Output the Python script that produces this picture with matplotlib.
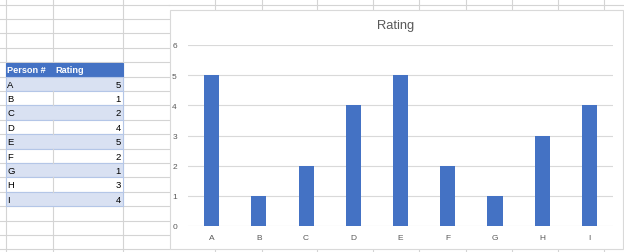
import matplotlib.pyplot as plt
from matplotlib.patches import Rectangle

# ---------------- Datos ----------------
persons = ["A", "B", "C", "D", "E", "F", "G", "H", "I"]
ratings = [5, 1, 2, 4, 5, 2, 1, 3, 4]
header = ["Person #", "Rating"]
yticks = [0, 1, 2, 3, 4, 5, 6]

W, H = 624, 253
BLUE = "#4472C4"
LIGHT = "#D9E1F2"
TBL_LINE = "#B4C6E7"
GRID = "#D4D4D4"
TXT = "#595959"

plt.rcParams['font.family'] = ['Liberation Sans', 'DejaVu Sans']

fig = plt.figure(figsize=(W / 100, H / 100), dpi=100)

# ---------------- Hoja de cálculo (fondo en píxeles) ----------------
bg = fig.add_axes([0, 0, 1, 1])
bg.set_xlim(0, W)
bg.set_ylim(H, 0)
bg.axis("off")

row_h = 14.4
row_lines = [5.5 + i * row_h for i in range(18)]
for y in row_lines:
    bg.plot([0, 169], [y, y], color=GRID, lw=0.8, zorder=1)
bg.plot([169, W], [5.5, 5.5], color=GRID, lw=0.8, zorder=1)
for x in [5.5, 52.5, 123]:
    bg.plot([x, x], [0, H], color=GRID, lw=0.8, zorder=1)
for x in [215, 262, 317, 373, 419, 466, 512, 558, 604]:
    bg.plot([x, x], [0, H], color=GRID, lw=0.8, zorder=1)

# tabla
tx0, tx1, txm = 5.5, 123, 52.5
ty0 = 63.5
bg.add_patch(Rectangle((tx0, ty0), tx1 - tx0, 14, facecolor=BLUE, edgecolor=BLUE, lw=0.8, zorder=2))
bg.text(tx0 + 1.5, ty0 + 7.3, header[0], color="white", fontsize=6.6, fontweight="bold", va="center", zorder=3)
bg.text(txm + 3, ty0 + 7.3, header[1], color="white", fontsize=6.6, fontweight="bold", va="center", zorder=3)
for i, (p, r) in enumerate(zip(persons, ratings)):
    y = ty0 + 14 + i * row_h
    fc = LIGHT if i % 2 == 0 else "white"
    bg.add_patch(Rectangle((tx0, y), tx1 - tx0, row_h, facecolor=fc, edgecolor=TBL_LINE, lw=0.8, zorder=2))
    if i % 2 == 1:
        bg.plot([txm, txm], [y, y + row_h], color=GRID, lw=0.8, zorder=2.5)
    bg.text(tx0 + 1.5, y + row_h / 2 + 0.5, p, fontsize=6.8, color="black", va="center", zorder=3)
    bg.text(tx1 - 2, y + row_h / 2 + 0.5, str(r), fontsize=6.8, color="black", va="center", ha="right", zorder=3)

# área del gráfico
bg.add_patch(Rectangle((169.5, 11), 453.5, 239, facecolor="white", edgecolor="#D9D9D9", lw=0.8, zorder=4))
bg.text(396, 26, "Rating", fontsize=9.3, color=TXT, ha="center", va="center", zorder=5)

# ---------------- Gráfica ----------------
left, right, y0, y6 = 188, 613, 227, 46
ax = fig.add_axes([left / W, (H - y0) / H, (right - left) / W, (y0 - y6) / H])
ax.patch.set_alpha(0)
ax.bar(range(len(persons)), ratings, width=0.32, color=BLUE, zorder=3)
ax.set_xlim(-0.5, len(persons) - 0.5)
ax.set_ylim(0, 6)
ax.set_yticks(yticks)
ax.set_xticks(range(len(persons)))
ax.set_xticklabels(persons)
ax.grid(axis="y", color="#D9D9D9", lw=0.8, zorder=0)
for s in ax.spines.values():
    s.set_visible(False)
ax.tick_params(axis="both", length=0, labelsize=6, labelcolor=TXT)
ax.tick_params(axis="y", pad=8)
ax.tick_params(axis="x", pad=6)

fig.savefig("out.png", dpi=100)
